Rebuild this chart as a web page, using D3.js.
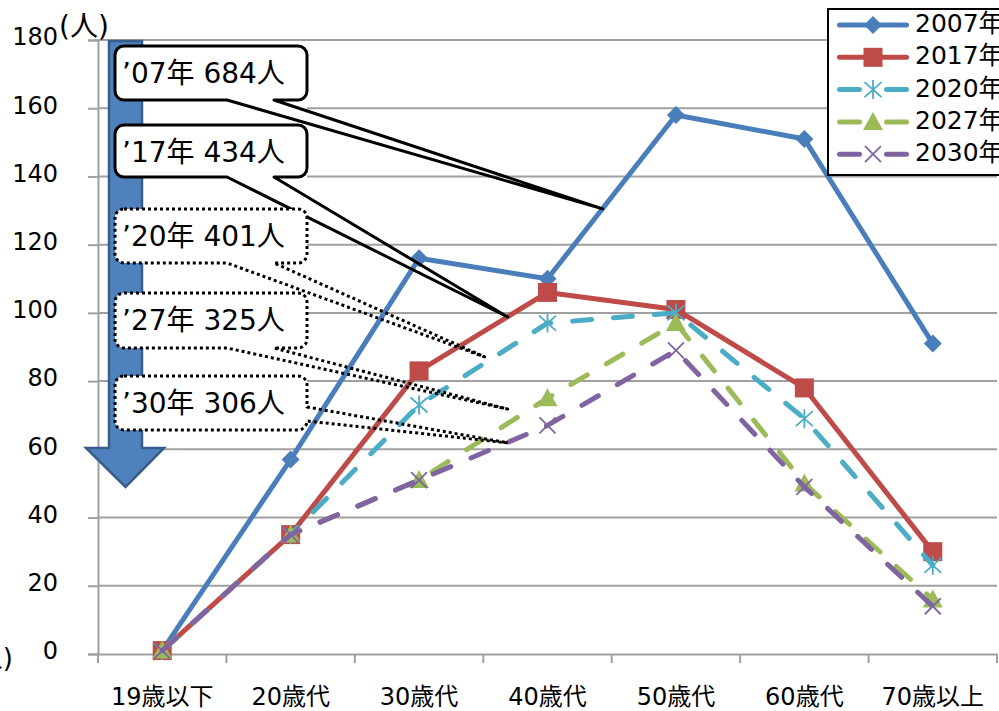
<!DOCTYPE html>
<html>
<head>
<meta charset="utf-8">
<script src="https://cdn.jsdelivr.net/npm/d3@7/dist/d3.min.js"></script>
<style>
  html, body { margin: 0; padding: 0; background: #fff; }
  svg { display: block; }
  text { font-family: 'DejaVu Sans', 'Noto Sans CJK JP', sans-serif; fill: #000; }
</style>
</head>
<body>
<svg id="chart" width="999" height="711"></svg>
<script>
// Age groups on the x axis
const categories = ["19歳以下", "20歳代", "30歳代", "40歳代", "50歳代", "60歳代", "70歳以上"];
// Series names
const years = ["2007年", "2017年", "2020年", "2027年", "2030年"];
// Headcount per age group
const v2007 = [1, 57, 116, 110, 158, 151, 91];
const v2017 = [1, 35, 83, 106, 101, 78, 30];
const v2020 = [1, 35, 73, 97, 100, 69, 26];
const v2027 = [1, 35, 51, 75, 97, 50, 16];
const v2030 = [1, 35, 51, 67, 89, 49, 14];
const yTicks = [0, 20, 40, 60, 80, 100, 120, 140, 160, 180];
const unitLabel = "(人)";

const seriesValues = [v2007, v2017, v2020, v2027, v2030];
const colors = ["#4A7EBB", "#BE4B48", "#4BACC6", "#9BBB59", "#8064A2"];
const dashed = [false, false, true, true, true];
const markers = ["diamond", "square", "asterisk", "triangle", "cross"];

const svg = d3.select("#chart");
const plotLeft = 98, plotRight = 997, plotTop = 40, plotBottom = 654;

const x = d3.scaleBand().domain(categories).range([plotLeft, plotRight]).padding(0);
const cx = c => x(c) + x.bandwidth() / 2;
const y = d3.scaleLinear().domain([0, 180]).range([plotBottom, plotTop]);
const xi = d3.scaleLinear().domain([0, categories.length - 1])
  .range([cx(categories[0]), cx(categories[categories.length - 1])]);

const gridColor = "#A0A0A0";
const fontStack = "'DejaVu Sans', 'Noto Sans CJK JP', sans-serif";

// horizontal gridlines
svg.append("g").selectAll("line").data(yTicks.filter(t => t > 0)).join("line")
  .attr("x1", plotLeft).attr("x2", plotRight)
  .attr("y1", d => y(d)).attr("y2", d => y(d))
  .attr("stroke", gridColor).attr("stroke-width", 2);

// y axis
const yAxis = svg.append("g").attr("transform", `translate(${plotLeft},0)`)
  .call(d3.axisLeft(y).tickValues(yTicks).tickSize(10).tickPadding(30).tickFormat(d3.format("d")));
yAxis.select(".domain").attr("stroke", gridColor).attr("stroke-width", 2);
yAxis.selectAll(".tick line").attr("stroke", gridColor).attr("stroke-width", 2);
yAxis.selectAll(".tick text").attr("font-size", 24).attr("dy", "0.2em").style("font-family", fontStack);

// x axis: labels centred in each band, ticks on band boundaries
const xAxis = svg.append("g").attr("transform", `translate(0,${plotBottom})`)
  .call(d3.axisBottom(x).tickSize(0).tickPadding(34));
xAxis.select(".domain").attr("stroke", gridColor).attr("stroke-width", 2);
xAxis.selectAll(".tick text").attr("font-size", 24).style("font-family", fontStack);
const bounds = categories.map(c => x(c)).concat([plotRight]);
svg.append("g").selectAll("line").data(bounds).join("line")
  .attr("x1", d => d).attr("x2", d => d)
  .attr("y1", plotBottom).attr("y2", plotBottom + 9)
  .attr("stroke", gridColor).attr("stroke-width", 2);

// unit labels
svg.append("text").attr("x", 59).attr("y", 36).attr("font-size", 28).text(unitLabel);
svg.append("text").attr("x", 13).attr("y", 667).attr("font-size", 26)
  .attr("text-anchor", "end").text(unitLabel);

// markers
function drawMarker(g, type, color, px, py) {
  if (type === "diamond") {
    g.append("path").attr("d", `M${px},${py - 9}L${px + 9},${py}L${px},${py + 9}L${px - 9},${py}Z`).attr("fill", color);
  } else if (type === "square") {
    g.append("rect").attr("x", px - 9.5).attr("y", py - 9.5).attr("width", 19).attr("height", 19).attr("fill", color);
  } else if (type === "triangle") {
    g.append("path").attr("d", `M${px},${py - 10}L${px + 10},${py + 8}L${px - 10},${py + 8}Z`).attr("fill", color);
  } else if (type === "asterisk") {
    g.append("path").attr("d",
      `M${px},${py - 9.5}L${px},${py + 9.5}M${px - 8.5},${py - 7.5}L${px + 8.5},${py + 7.5}M${px - 8.5},${py + 7.5}L${px + 8.5},${py - 7.5}`)
      .attr("stroke", color).attr("stroke-width", 1.8).attr("fill", "none");
  } else if (type === "cross") {
    g.append("path").attr("d",
      `M${px - 8},${py - 8}L${px + 8},${py + 8}M${px - 8},${py + 8}L${px + 8},${py - 8}`)
      .attr("stroke", color).attr("stroke-width", 1.8).attr("fill", "none");
  }
}

// series lines and markers
const line = d3.line().x((d, i) => cx(categories[i])).y(d => y(d));
seriesValues.forEach((vals, s) => {
  const g = svg.append("g");
  g.append("path").datum(vals).attr("d", line)
    .attr("fill", "none").attr("stroke", colors[s]).attr("stroke-width", 5)
    .attr("stroke-linejoin", "round")
    .attr("stroke-linecap", dashed[s] ? "round" : "butt")
    .attr("stroke-dasharray", dashed[s] ? "19,22" : null);
  vals.forEach((v, i) => drawMarker(g, markers[s], colors[s], cx(categories[i]), y(v)));
});

// white backing behind the callout column
svg.append("rect").attr("x", 115).attr("y", 46).attr("width", 192).attr("height", 384).attr("fill", "#fff");

// downward block arrow
const ax0 = 109, ax1 = 142, ahL = 86, ahR = 164, ahTop = 448, tipY = 487, axC = 125.5;
svg.append("path")
  .attr("d", `M${ax0},41H${ax1}V${ahTop}H${ahR}L${axC},${tipY}L${ahL},${ahTop}H${ax0}Z`)
  .attr("fill", "#4F81BD").attr("stroke", "#385D8A").attr("stroke-width", 2.5)
  .attr("stroke-linejoin", "miter");

// callouts: totals per year, pointing into the chart
const callouts = [
  { y0: 46, y1: 100, tip: [3.43, 130.5], side: "bottom", dotted: false },
  { y0: 125, y1: 177, tip: [2.69, 98.8], side: "bottom", dotted: false },
  { y0: 209, y1: 263, tip: [2.51, 87.1], side: "bottom", dotted: true },
  { y0: 293, y1: 348, tip: [2.69, 71.8], side: "bottom", dotted: true },
  { y0: 376, y1: 430, tip: [2.69, 61.9], side: "right", dotted: true }
];
const bx0 = 115, bx1 = 307, rr = 9, base1 = 227, base2 = 274;
callouts.forEach((c, k) => {
  const tx = xi(c.tip[0]), ty = y(c.tip[1]);
  const g = svg.append("g");
  g.append("rect").attr("x", bx0).attr("y", c.y0).attr("width", bx1 - bx0).attr("height", c.y1 - c.y0)
    .attr("rx", rr).attr("fill", "#fff");
  let d;
  if (c.side === "bottom") {
    d = `M${bx0 + rr},${c.y0}H${bx1 - rr}A${rr},${rr} 0 0 1 ${bx1},${c.y0 + rr}V${c.y1 - rr}` +
        `A${rr},${rr} 0 0 1 ${bx1 - rr},${c.y1}H${base2}L${tx},${ty}L${base1},${c.y1}H${bx0 + rr}` +
        `A${rr},${rr} 0 0 1 ${bx0},${c.y1 - rr}V${c.y0 + rr}A${rr},${rr} 0 0 1 ${bx0 + rr},${c.y0}Z`;
  } else {
    d = `M${bx0 + rr},${c.y0}H${bx1 - rr}A${rr},${rr} 0 0 1 ${bx1},${c.y0 + rr}V${c.y1 - 23}` +
        `L${tx},${ty}L${bx1},${c.y1 - rr}` +
        `A${rr},${rr} 0 0 1 ${bx1 - rr},${c.y1}H${bx0 + rr}` +
        `A${rr},${rr} 0 0 1 ${bx0},${c.y1 - rr}V${c.y0 + rr}A${rr},${rr} 0 0 1 ${bx0 + rr},${c.y0}Z`;
  }
  g.append("path").attr("d", d).attr("fill", "none").attr("stroke", "#000")
    .attr("stroke-width", 3).attr("stroke-linejoin", "round")
    .attr("stroke-dasharray", c.dotted ? "3,3" : null);
  const total = d3.sum(seriesValues[k]);
  g.append("text").attr("x", 122).attr("y", c.y0 + 37).attr("font-size", 28)
    .text(`’${years[k].slice(2, 4)}年 ${total}人`);
});

// legend
const lg = svg.append("g");
lg.append("rect").attr("x", 828).attr("y", 9).attr("width", 185).attr("height", 166)
  .attr("fill", "#fff").attr("stroke", "#000").attr("stroke-width", 2);
years.forEach((name, s) => {
  const ry = 25 + s * 32.3;
  if (dashed[s]) {
    [[839.5, 859.5], [886.5, 906.5]].forEach(([a, b]) => {
      lg.append("line").attr("x1", a).attr("x2", b).attr("y1", ry).attr("y2", ry)
        .attr("stroke", colors[s]).attr("stroke-width", 5).attr("stroke-linecap", "round");
    });
  } else {
    lg.append("line").attr("x1", 839.5).attr("x2", 906.5).attr("y1", ry).attr("y2", ry)
      .attr("stroke", colors[s]).attr("stroke-width", 5).attr("stroke-linecap", "round");
  }
  drawMarker(lg, markers[s], colors[s], 873, ry);
  lg.append("text").attr("x", 915).attr("y", ry + 7).attr("font-size", 25).text(name);
});
</script>
</body>
</html>
